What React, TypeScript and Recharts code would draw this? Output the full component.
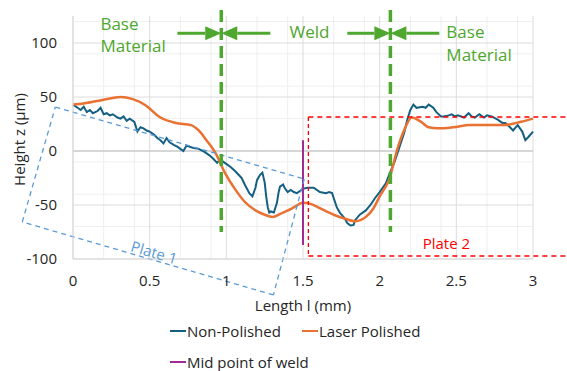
import React from "react";
import {
  LineChart,
  Line,
  XAxis,
  YAxis,
  CartesianGrid,
  ReferenceLine,
  ReferenceDot,
  Legend,
} from "recharts";

// Non-Polished profile (length mm, height µm)
const npX = [
  0, 0.03, 0.05, 0.07, 0.09, 0.11, 0.13, 0.16, 0.18, 0.2, 0.22, 0.24, 0.26, 0.29, 0.31, 0.33, 0.35, 0.37, 0.4,
  0.42, 0.44, 0.46, 0.48, 0.5, 0.53, 0.55, 0.57, 0.59, 0.61, 0.63, 0.66, 0.68, 0.7, 0.72, 0.74, 0.78, 0.82,
  0.86, 0.89, 0.91, 0.94, 0.96, 0.99, 1.03, 1.06, 1.08, 1.1, 1.12, 1.15, 1.17, 1.19, 1.2, 1.22, 1.235, 1.25,
  1.26, 1.27, 1.28, 1.29, 1.31, 1.33, 1.34, 1.35, 1.37, 1.38, 1.4, 1.42, 1.44, 1.46, 1.48, 1.5, 1.53, 1.57,
  1.61, 1.65, 1.67, 1.69, 1.7, 1.72, 1.74, 1.77, 1.79, 1.81, 1.83, 1.84, 1.87, 1.91, 1.94, 1.97, 2.0, 2.04,
  2.07, 2.1, 2.13, 2.16, 2.18, 2.2, 2.22, 2.24, 2.28, 2.3, 2.32, 2.35, 2.37, 2.4, 2.42, 2.45, 2.47, 2.49, 2.51,
  2.55, 2.58, 2.6, 2.62, 2.65, 2.68, 2.7, 2.73, 2.77, 2.8, 2.82, 2.85, 2.87, 2.9, 2.93, 2.95, 2.97, 3.0,
];
const npY = [
  43, 40, 38, 41, 36, 38, 35, 37, 40, 34, 35, 33, 34, 31, 30, 32, 28, 30, 27,
  18, 22, 21, 19, 18, 15, 12, 10, 7, 12, 8, 5.5, 4, 2, 0, 5, 3, 2,
  -1, -4, -6.5, -11, -8, -11, -15, -19, -22, -25, -31, -39, -42, -34, -27, -22, -20, -29,
  -42, -52, -57, -56, -57, -48, -39, -33, -31, -34, -38, -36, -38, -39, -37, -35, -34, -34,
  -38, -39, -38, -39, -43.5, -52, -57, -62, -67, -69, -68.5, -64, -59, -55, -50, -43.5, -38, -30,
  -19, -9, 4, 17, 29, 38, 43, 40, 41, 40, 43, 40, 36, 32, 32, 33, 34, 32, 33,
  31, 35, 32, 31, 34, 31, 33, 32, 29, 26, 26, 22, 19, 24, 18, 10, 13, 18,
];

// Laser Polished profile
const lpX = [
  0, 0.07, 0.2, 0.31, 0.39, 0.47, 0.57, 0.67, 0.77, 0.82, 0.87, 0.93, 0.99, 1.06, 1.12, 1.19, 1.25, 1.3, 1.37,
  1.43, 1.5, 1.55, 1.61, 1.7, 1.78, 1.84, 1.91, 1.96, 2.0, 2.06, 2.12, 2.16, 2.21, 2.27, 2.32, 2.38, 2.48,
  2.59, 2.7, 2.81, 2.92, 3.0,
];
const lpY = [
  43, 44, 47.5, 50, 48, 42.6, 31, 26, 24, 19, 10, -2, -20, -36, -47, -55, -59, -61, -57,
  -53, -48, -49, -53, -59, -63, -65, -61, -53, -42, -27, 4, 19.5, 31, 27, 22, 21, 22,
  24, 24, 24, 27, 30,
];

// Mid point of weld marker
const midX = [1.5, 1.5];
const midY = [10, -87];

const xTicks = [0, 0.5, 1, 1.5, 2, 2.5, 3];
const yTicks = [-100, -50, 0, 50, 100];
const xMinor = [0.1, 0.2, 0.3, 0.4, 0.6, 0.7, 0.8, 0.9, 1.1, 1.2, 1.3, 1.4, 1.6, 1.7, 1.8, 1.9, 2.1, 2.2, 2.3, 2.4, 2.6, 2.7, 2.8, 2.9];
const yMinor = [-90, -80, -70, -60, -40, -30, -20, -10, 10, 20, 30, 40, 60, 70, 80, 90, 110, 120];

const npData = npX.map((x, i) => ({ x, y: npY[i] }));
const lpData = lpX.map((x, i) => ({ x, y: lpY[i] }));
const midData = midX.map((x, i) => ({ x, y: midY[i] }));

const FONT = "'Open Sans', sans-serif";
const GREEN = "#4EA72E";
const BLUE = "#156082";
const ORANGE = "#E97132";
const PURPLE = "#A02B93";
const LIGHTBLUE = "#5B9BD5";
const RED = "#FF0000";
const TEXT = "#262626";

// weld boundaries and annotation geometry (data units)
const weldStart = 0.967;
const weldEnd = 2.07;
const arrowY = 109;
const plate1 = [
  { x: -0.115, y: 40.7 },
  { x: 1.508, y: -25.9 },
  { x: 1.307, y: -133.3 },
  { x: -0.331, y: -65.7 },
];

const Arrow = (p: any) => {
  const { x1, y1, x2, y2 } = p;
  const dir = x2 > x1 ? 1 : -1;
  const head = 16;
  const hx = x2 - dir * head;
  return (
    <g>
      <line x1={x1} y1={y1} x2={hx} y2={y2} stroke={GREEN} strokeWidth={3} />
      <polygon points={`${x2},${y2} ${hx},${y2 - 7} ${hx},${y2 + 7}`} fill={GREEN} />
    </g>
  );
};

const textShape = (label: string, color: string, size: number, rotate = 0, anchor = "start") => (p: any) => (
  <text
    x={p.cx}
    y={p.cy}
    fill={color}
    fontSize={size}
    fontFamily={FONT}
    textAnchor={anchor}
    dominantBaseline="central"
    transform={rotate ? `rotate(${rotate} ${p.cx} ${p.cy})` : undefined}
  >
    {label}
  </text>
);

const legendRows = [
  { name: "Non-Polished", color: BLUE, left: 170, top: 20 },
  { name: "Laser Polished", color: ORANGE, left: 302, top: 20 },
  { name: "Mid point of weld", color: PURPLE, left: 170, top: 51 },
];

const LegendContent = () => (
  <div style={{ position: "relative", height: 60, width: 533 }}>
    {legendRows.map((r) => (
      <div
        key={r.name}
        style={{
          position: "absolute",
          left: r.left,
          top: r.top - 11,
          height: 22,
          display: "flex",
          alignItems: "center",
          fontFamily: FONT,
          fontSize: 15,
          color: TEXT,
          whiteSpace: "nowrap",
        }}
      >
        <span style={{ display: "inline-block", width: 16, height: 2, background: r.color, marginRight: 1 }} />
        {r.name}
      </div>
    ))}
  </div>
);

const YLabel = (props: any) => {
  const vb = props.viewBox;
  const cx = vb.x + 19;
  const cy = vb.y + vb.height / 2 + 2;
  return (
    <text x={cx} y={cy} transform={`rotate(-90 ${cx} ${cy})`} textAnchor="middle" dominantBaseline="central" fontSize={15} fontFamily={FONT} fill={TEXT}>
      Height z (µm)
    </text>
  );
};

const XLabel = (props: any) => {
  const vb = props.viewBox;
  return (
    <text x={vb.x + vb.width / 2} y={vb.y + 46} textAnchor="middle" dominantBaseline="central" fontSize={15} fontFamily={FONT} fill={TEXT}>
      Length l (mm)
    </text>
  );
};

export default function App() {
  const tick = { fill: TEXT, fontSize: 15, fontFamily: FONT };
  return (
    <div style={{ position: "absolute", left: 0, top: 0, width: 567, height: 371, background: "#fff" }}>
      <LineChart width={567} height={371} margin={{ top: 16, right: 34, left: 0, bottom: 0 }}>
        <CartesianGrid stroke="#efefef" verticalValues={xMinor} horizontalValues={yMinor} />
        <CartesianGrid stroke="#dcdcdc" verticalValues={xTicks} horizontalValues={yTicks} />
        <XAxis
          type="number"
          dataKey="x"
          domain={[0, 3]}
          ticks={xTicks}
          height={52}
          tickLine={false}
          tickSize={0}
          tickMargin={16}
          axisLine={{ stroke: "#d9d9d9" }}
          tick={tick}
          label={{ content: XLabel }}
        />
        <YAxis
          type="number"
          dataKey="y"
          domain={[-100, 125]}
          ticks={yTicks}
          width={73}
          tickLine={false}
          tickSize={0}
          tickMargin={16}
          axisLine={{ stroke: "#d9d9d9" }}
          tick={tick}
          label={{ content: YLabel }}
        />
        <ReferenceLine y={0} stroke="#bfbfbf" strokeWidth={1} />
        <Legend verticalAlign="bottom" content={LegendContent} />

        <Line data={npData} dataKey="y" name="Non-Polished" type="linear" stroke={BLUE} strokeWidth={2} dot={false} isAnimationActive={false} />
        <Line data={lpData} dataKey="y" name="Laser Polished" type="monotone" stroke={ORANGE} strokeWidth={2.5} dot={false} isAnimationActive={false} />
        <Line data={midData} dataKey="y" name="Mid point of weld" type="linear" stroke={PURPLE} strokeWidth={2} dot={false} isAnimationActive={false} />

        {/* Plate 1 (rotated dashed box) */}
        {plate1.map((c, i) => {
          const n = plate1[(i + 1) % plate1.length];
          return (
            <ReferenceLine
              key={`p1-${i}`}
              segment={[c, n]}
              stroke={LIGHTBLUE}
              strokeWidth={1.3}
              strokeDasharray="5 4"
              ifOverflow="visible"
            />
          );
        })}
        <ReferenceDot x={0.53} y={-93.5} r={0} ifOverflow="visible" shape={textShape("Plate 1", LIGHTBLUE, 15, 16.2, "middle")} />

        {/* Plate 2 (dashed box) */}
        <ReferenceLine segment={[{ x: 1.535, y: 31.5 }, { x: 3.3, y: 31.5 }]} stroke={RED} strokeWidth={1.3} strokeDasharray="5 4" ifOverflow="visible" />
        <ReferenceLine segment={[{ x: 1.535, y: 31.5 }, { x: 1.535, y: -97.2 }]} stroke={RED} strokeWidth={1.3} strokeDasharray="4 3" ifOverflow="visible" />
        <ReferenceLine segment={[{ x: 1.535, y: -97.2 }, { x: 3.3, y: -97.2 }]} stroke={RED} strokeWidth={1.3} strokeDasharray="5 4" ifOverflow="visible" />
        <ReferenceDot x={2.435} y={-85.2} r={0} ifOverflow="visible" shape={textShape("Plate 2", RED, 15, 0, "middle")} />

        {/* weld boundaries */}
        <ReferenceLine segment={[{ x: weldStart, y: 130.5 }, { x: weldStart, y: -75 }]} stroke={GREEN} strokeWidth={3.5} strokeDasharray="12 6" ifOverflow="visible" />
        <ReferenceLine segment={[{ x: weldEnd, y: 130.5 }, { x: weldEnd, y: -75 }]} stroke={GREEN} strokeWidth={3.5} strokeDasharray="12 6" ifOverflow="visible" />

        <ReferenceLine segment={[{ x: 0.681, y: arrowY }, { x: weldStart, y: arrowY }]} ifOverflow="visible" shape={Arrow} />
        <ReferenceLine segment={[{ x: 1.287, y: arrowY }, { x: weldStart, y: arrowY }]} ifOverflow="visible" shape={Arrow} />
        <ReferenceLine segment={[{ x: 1.789, y: arrowY }, { x: weldEnd, y: arrowY }]} ifOverflow="visible" shape={Arrow} />
        <ReferenceLine segment={[{ x: 2.389, y: arrowY }, { x: weldEnd, y: arrowY }]} ifOverflow="visible" shape={Arrow} />

        <ReferenceDot x={0.179} y={118} r={0} ifOverflow="visible" shape={textShape("Base", GREEN, 17)} />
        <ReferenceDot x={0.179} y={98} r={0} ifOverflow="visible" shape={textShape("Material", GREEN, 17)} />
        <ReferenceDot x={1.412} y={110.2} r={0} ifOverflow="visible" shape={textShape("Weld", GREEN, 17)} />
        <ReferenceDot x={2.435} y={110.2} r={0} ifOverflow="visible" shape={textShape("Base", GREEN, 17)} />
        <ReferenceDot x={2.435} y={88.9} r={0} ifOverflow="visible" shape={textShape("Material", GREEN, 17)} />
      </LineChart>
    </div>
  );
}
